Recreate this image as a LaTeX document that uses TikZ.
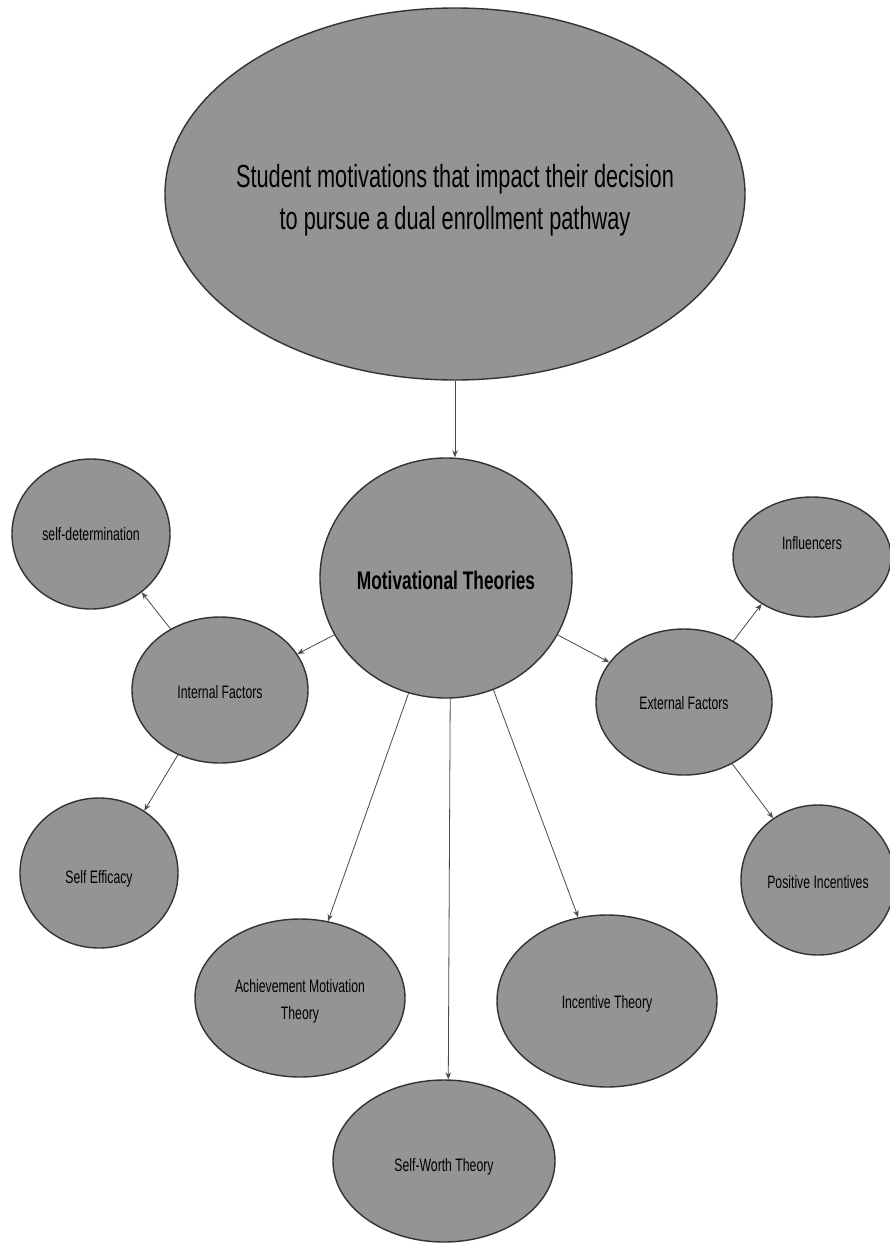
\documentclass[tikz,border=0pt]{standalone}
\usepackage{fontspec}
\setmainfont[FakeStretch=0.68]{Liberation Sans}
\usetikzlibrary{shapes.geometric,arrows.meta}
\definecolor{bubblefill}{HTML}{949494}
\definecolor{bubbleline}{HTML}{333333}
\definecolor{linkline}{HTML}{4A4A4A}
\begin{document}
\begin{tikzpicture}[x=1pt,y=-1pt,
  bubble/.style={ellipse,draw=bubbleline,line width=1.4pt,fill=bubblefill,inner sep=0pt,align=center,
    text height=13pt,text depth=0pt,font=\fontsize{18}{27}\selectfont},
  link/.style={draw=linkline,line width=0.8pt,-{Stealth[length=7pt,width=5.5pt]}}]
\useasboundingbox[fill=white] (0,0) rectangle (890,1243);
\node[bubble,minimum width=580pt,minimum height=372pt,inner xsep=-20pt,text height=71pt,font=\fontsize{32}{42}\selectfont] (top) at (455,194) {Student motivations that impact their decision\\to pursue a dual enrollment pathway};
\node[bubble,minimum width=252pt,minimum height=240pt,inner xsep=-6pt,text height=22pt,font=\bfseries\fontsize{25.5}{30}\selectfont] (mt) at (446,578) {Motivational Theories};
\node[bubble,minimum width=158pt,minimum height=150pt] (sd) at (91,534) {self-determination};
\node[bubble,minimum width=176pt,minimum height=146pt,text height=17pt] (if) at (220,690) {Internal Factors};
\node[bubble,minimum width=158pt,minimum height=150pt,text height=21pt] (se) at (99,873) {Self Efficacy};
\node[bubble,minimum width=158pt,minimum height=120pt,text depth=28pt] (inf) at (812,557) {Influencers};
\node[bubble,minimum width=176pt,minimum height=146pt,text height=15pt] (ef) at (684,702) {External Factors};
\node[bubble,minimum width=154pt,minimum height=150pt,text height=17pt] (pi) at (818,880) {Positive Incentives};
\node[bubble,minimum width=210pt,minimum height=158pt,text height=42pt] (amt) at (300,998) {Achievement Motivation\\Theory};
\node[bubble,minimum width=220pt,minimum height=172pt,text height=15pt] (it) at (607,1001) {Incentive Theory};
\node[bubble,minimum width=222pt,minimum height=162pt,text height=21pt] (sw) at (444,1161) {Self-Worth Theory};
\draw[link] (top.south) -- (top.south |- mt.north);
\draw[link] (mt.207) -- (if.25.7);
\draw[link] (mt.333) -- (ef.152.2);
\draw[link] (mt.252.6) -- (amt.70.7);
\draw[link] (mt.272.8) -- (sw.87.9);
\draw[link] (mt.293) -- (it.109.2);
\draw[link] (if.129.8) -- (sd.311);
\draw[link] (if.237.5) -- (se.54.8);
\draw[link] (ef.51.7) -- (inf.223.8);
\draw[link] (ef.308.2) -- (pi.126);
\end{tikzpicture}
\end{document}
